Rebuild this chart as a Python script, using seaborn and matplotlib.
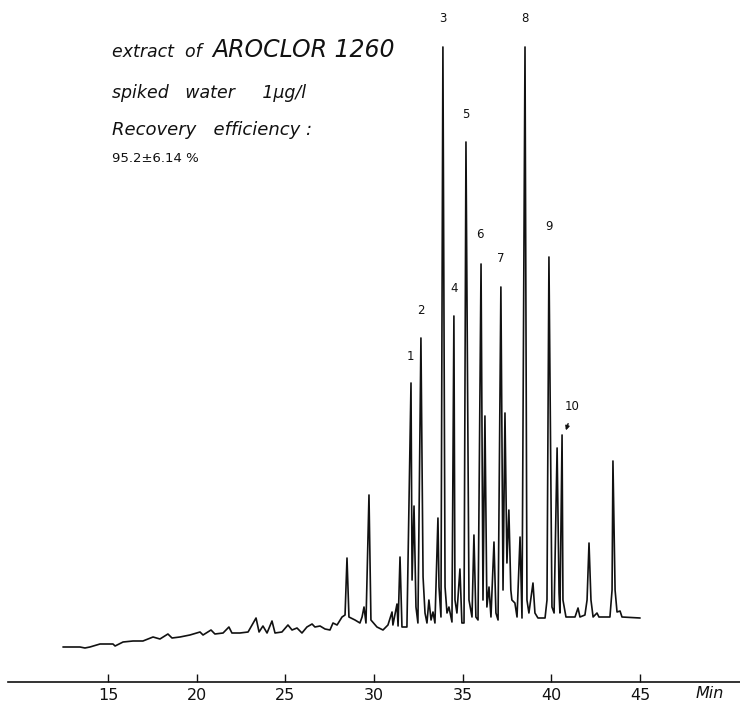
import matplotlib
matplotlib.use("Agg")
import matplotlib.pyplot as plt
import seaborn as sns
import pandas as pd

# ---- data (retention time in min, detector response in arbitrary units) ----
time = [12.46, 13.42, 13.70, 13.98, 14.55, 15.28, 15.40, 15.85, 16.41, 16.97, 17.54, 17.93, 18.38, 18.61,
        19.06, 19.62, 20.19, 20.36, 20.81, 21.03, 21.49, 21.82, 21.99, 22.44, 22.90, 23.35, 23.52, 23.74,
        23.97, 24.25, 24.42, 24.81, 25.15, 25.38, 25.66, 25.94, 26.22, 26.51, 26.67, 26.96, 27.24, 27.52,
        27.69, 27.92, 28.20, 28.37, 28.48, 28.59, 28.93, 29.21, 29.33, 29.44, 29.55, 29.72, 29.83, 30.17,
        30.51, 30.79, 31.02, 31.07, 31.30, 31.36, 31.47, 31.58, 31.86, 32.09, 32.15, 32.26, 32.37, 32.48,
        32.65, 32.77, 32.88, 32.99, 33.10, 33.22, 33.33, 33.44, 33.61, 33.67, 33.78, 33.89, 34.01, 34.12,
        34.23, 34.40, 34.51, 34.57, 34.68, 34.85, 34.96, 35.08, 35.19, 35.36, 35.53, 35.64, 35.75, 35.87,
        36.04, 36.15, 36.26, 36.37, 36.49, 36.60, 36.77, 36.88, 37.00, 37.16, 37.28, 37.39, 37.50, 37.61,
        37.72, 37.78, 37.95, 38.07, 38.24, 38.35, 38.52, 38.63, 38.74, 38.97, 39.08, 39.25, 39.65, 39.76,
        39.87, 40.04, 40.16, 40.33, 40.44, 40.49, 40.61, 40.66, 40.83, 41.34, 41.51, 41.62, 41.90, 42.02,
        42.13, 42.24, 42.36, 42.58, 42.69, 43.31, 43.43, 43.48, 43.60, 43.71, 43.88, 43.99, 45.01]
signal = [0, 0, -1, 0, 3, 3, 1, 5, 6, 6, 10, 8, 13, 9,
          10, 12, 15, 12, 17, 13, 14, 20, 14, 14, 15, 29, 15, 21,
          14, 26, 14, 15, 22, 17, 19, 14, 20, 23, 20, 21, 18, 17,
          24, 22, 30, 32, 89, 30, 27, 24, 30, 40, 24, 152, 27, 20,
          17, 22, 35, 22, 43, 21, 90, 20, 20, 264, 67, 141, 40, 24,
          309, 70, 34, 24, 47, 27, 35, 24, 129, 60, 30, 600, 60, 34,
          40, 25, 331, 47, 34, 78, 24, 24, 505, 47, 30, 112, 30, 27,
          383, 47, 231, 40, 60, 30, 105, 34, 27, 360, 57, 234, 84, 137,
          57, 47, 44, 30, 110, 29, 600, 47, 34, 64, 34, 29, 29, 47,
          390, 40, 34, 199, 54, 34, 212, 47, 30, 30, 39, 30, 32, 47,
          104, 47, 30, 34, 30, 30, 57, 186, 57, 35, 36, 30, 29]

peak_labels = ["1", "2", "3", "4", "5", "6", "7", "8", "9", "10"]
peak_label_time = [32.03, 32.65, 33.89, 34.51, 35.19, 35.98, 37.16, 38.52, 39.87, 41.17]
peak_label_signal = [291, 337, 629, 359, 532, 412, 388, 628, 420, 240]

tick_values = [15, 20, 25, 30, 35, 40, 45]
tick_labels = ["15", "20", "25", "30", "35", "40", "45"]

df = pd.DataFrame({"time": time, "signal": signal})

sns.set_theme(style="white")
plt.rcParams["font.family"] = ["DejaVu Sans"]

W, H = 740, 704
fig = plt.figure(figsize=(W / 100, H / 100), dpi=100)
ax = fig.add_axes([8 / W, 22 / H, (740 - 8) / W, (682 - 10) / H])

sns.lineplot(data=df, x="time", y="signal", sort=False, estimator=None,
             color="#111111", linewidth=1.2, ax=ax)

ax.set_xlim(9.36, 50.646)
ax.set_ylim(-35, 637)
ax.set_xlabel("")
ax.set_ylabel("")
ax.set_yticks([])
ax.set_xticks(tick_values)
ax.set_xticklabels(tick_labels)
ax.tick_params(axis="x", direction="in", length=6, width=1.0, color="#111111",
               labelsize=11.5, pad=4, labelcolor="#111111", bottom=True)
for side in ["top", "left", "right"]:
    ax.spines[side].set_visible(False)
ax.spines["bottom"].set_color("#111111")
ax.spines["bottom"].set_linewidth(1.2)
ax.grid(False)

for lab, t, s in zip(peak_labels, peak_label_time, peak_label_signal):
    ax.text(t, s, lab, ha="center", va="center", fontsize=8.5, color="#111111", clip_on=False)

# arrow for peak 10
ax.annotate("", xy=(40.78, 214), xytext=(41.00, 226),
            arrowprops=dict(arrowstyle="-|>", color="#111111", lw=1.0, mutation_scale=6))

def fx(px):
    return px / W

def fy(py):
    return 1 - py / H

fig.text(fx(112), fy(57), "extract  of", fontsize=12.5, style="italic", color="#111111",
         ha="left", va="baseline")
fig.text(fx(212), fy(57), "AROCLOR 1260", fontsize=17, style="italic", color="#111111",
         ha="left", va="baseline")
fig.text(fx(112), fy(93), "spiked   water     1µg/l", fontsize=12.5, style="italic", color="#111111",
         ha="left", va="center")
fig.text(fx(112), fy(130), "Recovery   efficiency :", fontsize=13, style="italic", color="#111111",
         ha="left", va="center")
fig.text(fx(112), fy(158), "95.2±6.14 %", fontsize=9.5, color="#111111", ha="left", va="center")
fig.text(fx(710), fy(694), "Min", fontsize=11.5, style="italic", color="#111111", ha="center", va="center")

fig.savefig("out.png", dpi=100)
